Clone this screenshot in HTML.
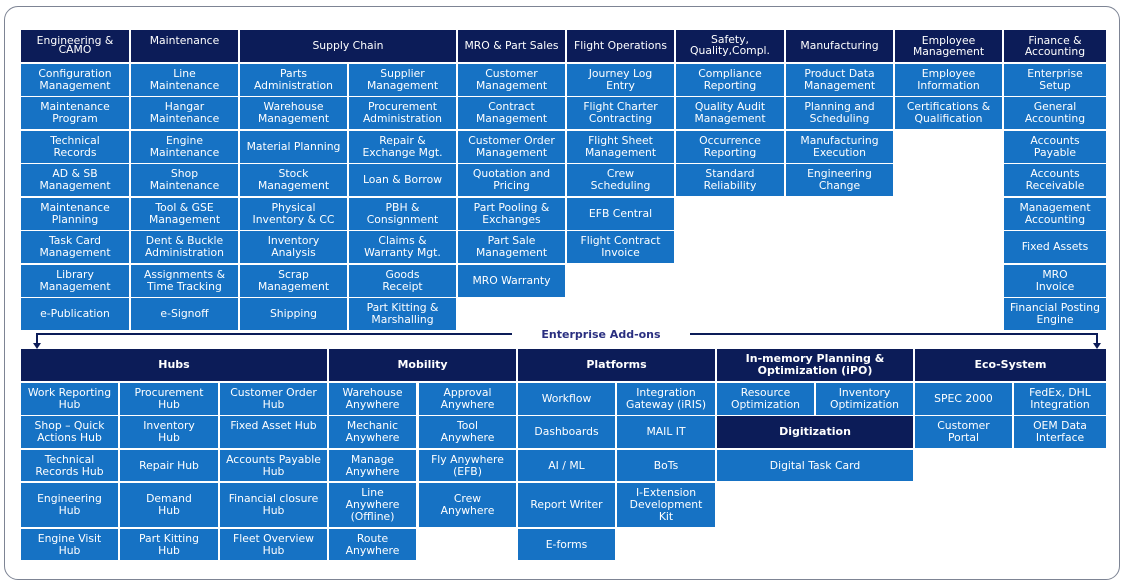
<!DOCTYPE html>
<html><head><meta charset="utf-8"><style>
body{margin:0;width:1126px;height:584px;background:#fff;overflow:hidden;position:relative;font-family:"DejaVu Sans","Liberation Sans",sans-serif}
.f{position:absolute;left:4px;top:6px;width:1116px;height:574px;border:1.5px solid #7d8494;border-radius:14px;box-sizing:border-box}
.c,.h{position:absolute;display:flex;align-items:center;justify-content:center;text-align:center;color:#fff;font-size:10.8px;line-height:12px;box-sizing:border-box;padding:0 2px}
.c{background:#1672c4}
.h{background:#0c1c58}
.t{align-items:flex-start;padding-top:6px;line-height:9px}
.b{font-weight:bold;font-size:11px}
.ln{position:absolute;background:#0c1c58}
</style></head><body>
<div class="f"></div>
<!-- top headers -->
<div class="h t" style="left:21px;top:30px;width:108px;height:32px">Engineering &amp;<br>CAMO</div>
<div class="h t" style="left:131px;top:30px;width:107px;height:32px;padding-top:6px">Maintenance</div>
<div class="h" style="left:240px;top:30px;width:216px;height:32px">Supply Chain</div>
<div class="h" style="left:458px;top:30px;width:107px;height:32px">MRO &amp; Part Sales</div>
<div class="h" style="left:567px;top:30px;width:107px;height:32px">Flight Operations</div>
<div class="h t" style="left:676px;top:30px;width:108px;height:32px;line-height:11px;padding-top:4px">Safety,<br>Quality,Compl.</div>
<div class="h" style="left:786px;top:30px;width:107px;height:32px">Manufacturing</div>
<div class="h t" style="left:895px;top:30px;width:107px;height:32px;line-height:11px;padding-top:5px">Employee<br>Management</div>
<div class="h t" style="left:1004px;top:30px;width:102px;height:32px;line-height:11px;padding-top:5px">Finance &amp;<br>Accounting</div>
<!-- col0 -->
<div class="c" style="left:21px;top:64px;width:108px;height:32px">Configuration<br>Management</div>
<div class="c" style="left:21px;top:97px;width:108px;height:32px">Maintenance<br>Program</div>
<div class="c" style="left:21px;top:131px;width:108px;height:32px">Technical<br>Records</div>
<div class="c" style="left:21px;top:164px;width:108px;height:32px">AD &amp; SB<br>Management</div>
<div class="c" style="left:21px;top:198px;width:108px;height:32px">Maintenance<br>Planning</div>
<div class="c" style="left:21px;top:231px;width:108px;height:32px">Task Card<br>Management</div>
<div class="c" style="left:21px;top:265px;width:108px;height:32px">Library<br>Management</div>
<div class="c" style="left:21px;top:298px;width:108px;height:32px">e-Publication</div>
<!-- col1 -->
<div class="c" style="left:131px;top:64px;width:107px;height:32px">Line<br>Maintenance</div>
<div class="c" style="left:131px;top:97px;width:107px;height:32px">Hangar<br>Maintenance</div>
<div class="c" style="left:131px;top:131px;width:107px;height:32px">Engine<br>Maintenance</div>
<div class="c" style="left:131px;top:164px;width:107px;height:32px">Shop<br>Maintenance</div>
<div class="c" style="left:131px;top:198px;width:107px;height:32px">Tool &amp; GSE<br>Management</div>
<div class="c" style="left:131px;top:231px;width:107px;height:32px">Dent &amp; Buckle<br>Administration</div>
<div class="c" style="left:131px;top:265px;width:107px;height:32px">Assignments &amp;<br>Time Tracking</div>
<div class="c" style="left:131px;top:298px;width:107px;height:32px">e-Signoff</div>
<!-- col2 -->
<div class="c" style="left:240px;top:64px;width:107px;height:32px">Parts<br>Administration</div>
<div class="c" style="left:240px;top:97px;width:107px;height:32px">Warehouse<br>Management</div>
<div class="c" style="left:240px;top:131px;width:107px;height:32px">Material Planning</div>
<div class="c" style="left:240px;top:164px;width:107px;height:32px">Stock<br>Management</div>
<div class="c" style="left:240px;top:198px;width:107px;height:32px">Physical<br>Inventory &amp; CC</div>
<div class="c" style="left:240px;top:231px;width:107px;height:32px">Inventory<br>Analysis</div>
<div class="c" style="left:240px;top:265px;width:107px;height:32px">Scrap<br>Management</div>
<div class="c" style="left:240px;top:298px;width:107px;height:32px">Shipping</div>
<!-- col3 -->
<div class="c" style="left:349px;top:64px;width:107px;height:32px">Supplier<br>Management</div>
<div class="c" style="left:349px;top:97px;width:107px;height:32px">Procurement<br>Administration</div>
<div class="c" style="left:349px;top:131px;width:107px;height:32px">Repair &amp;<br>Exchange Mgt.</div>
<div class="c" style="left:349px;top:164px;width:107px;height:32px">Loan &amp; Borrow</div>
<div class="c" style="left:349px;top:198px;width:107px;height:32px">PBH &amp;<br>Consignment</div>
<div class="c" style="left:349px;top:231px;width:107px;height:32px">Claims &amp;<br>Warranty Mgt.</div>
<div class="c" style="left:349px;top:265px;width:107px;height:32px">Goods<br>Receipt</div>
<div class="c" style="left:349px;top:298px;width:107px;height:32px">Part Kitting &amp;<br>Marshalling</div>
<!-- col4 -->
<div class="c" style="left:458px;top:64px;width:107px;height:32px">Customer<br>Management</div>
<div class="c" style="left:458px;top:97px;width:107px;height:32px">Contract<br>Management</div>
<div class="c" style="left:458px;top:131px;width:107px;height:32px">Customer Order<br>Management</div>
<div class="c" style="left:458px;top:164px;width:107px;height:32px">Quotation and<br>Pricing</div>
<div class="c" style="left:458px;top:198px;width:107px;height:32px">Part Pooling &amp;<br>Exchanges</div>
<div class="c" style="left:458px;top:231px;width:107px;height:32px">Part Sale<br>Management</div>
<div class="c" style="left:458px;top:265px;width:107px;height:32px">MRO Warranty</div>
<!-- col5 -->
<div class="c" style="left:567px;top:64px;width:107px;height:32px">Journey Log<br>Entry</div>
<div class="c" style="left:567px;top:97px;width:107px;height:32px">Flight Charter<br>Contracting</div>
<div class="c" style="left:567px;top:131px;width:107px;height:32px">Flight Sheet<br>Management</div>
<div class="c" style="left:567px;top:164px;width:107px;height:32px">Crew<br>Scheduling</div>
<div class="c" style="left:567px;top:198px;width:107px;height:32px">EFB Central</div>
<div class="c" style="left:567px;top:231px;width:107px;height:32px">Flight Contract<br>Invoice</div>
<!-- col6 -->
<div class="c" style="left:676px;top:64px;width:108px;height:32px">Compliance<br>Reporting</div>
<div class="c" style="left:676px;top:97px;width:108px;height:32px">Quality Audit<br>Management</div>
<div class="c" style="left:676px;top:131px;width:108px;height:32px">Occurrence<br>Reporting</div>
<div class="c" style="left:676px;top:164px;width:108px;height:32px">Standard<br>Reliability</div>
<!-- col7 -->
<div class="c" style="left:786px;top:64px;width:107px;height:32px">Product Data<br>Management</div>
<div class="c" style="left:786px;top:97px;width:107px;height:32px">Planning and<br>Scheduling</div>
<div class="c" style="left:786px;top:131px;width:107px;height:32px">Manufacturing<br>Execution</div>
<div class="c" style="left:786px;top:164px;width:107px;height:32px">Engineering<br>Change</div>
<!-- col8 -->
<div class="c" style="left:895px;top:64px;width:107px;height:32px">Employee<br>Information</div>
<div class="c" style="left:895px;top:97px;width:107px;height:32px">Certifications &amp;<br>Qualification</div>
<!-- col9 -->
<div class="c" style="left:1004px;top:64px;width:102px;height:32px">Enterprise<br>Setup</div>
<div class="c" style="left:1004px;top:97px;width:102px;height:32px">General<br>Accounting</div>
<div class="c" style="left:1004px;top:131px;width:102px;height:32px">Accounts<br>Payable</div>
<div class="c" style="left:1004px;top:164px;width:102px;height:32px">Accounts<br>Receivable</div>
<div class="c" style="left:1004px;top:198px;width:102px;height:32px">Management<br>Accounting</div>
<div class="c" style="left:1004px;top:231px;width:102px;height:32px">Fixed Assets</div>
<div class="c" style="left:1004px;top:265px;width:102px;height:32px">MRO<br>Invoice</div>
<div class="c" style="left:1004px;top:298px;width:102px;height:32px">Financial Posting<br>Engine</div>

<!-- connector -->
<div class="ln" style="left:36px;top:333px;width:476px;height:2px"></div>
<div class="ln" style="left:690px;top:333px;width:408px;height:2px"></div>
<div class="ln" style="left:36px;top:333px;width:2px;height:12px"></div>
<div class="ln" style="left:1096px;top:333px;width:2px;height:12px"></div>
<div style="position:absolute;left:33px;top:343px;width:0;height:0;border-left:4px solid transparent;border-right:4px solid transparent;border-top:6px solid #0c1c58"></div>
<div style="position:absolute;left:1093px;top:343px;width:0;height:0;border-left:4px solid transparent;border-right:4px solid transparent;border-top:6px solid #0c1c58"></div>
<div style="position:absolute;left:512px;top:328px;width:178px;text-align:center;font-size:11px;font-weight:bold;color:#2a2f80">Enterprise Add-ons</div>

<!-- lower headers -->
<div class="h b" style="left:21px;top:349px;width:306px;height:32px">Hubs</div>
<div class="h b" style="left:329px;top:349px;width:187px;height:32px">Mobility</div>
<div class="h b" style="left:518px;top:349px;width:197px;height:32px">Platforms</div>
<div class="h b" style="left:717px;top:349px;width:196px;height:32px;line-height:12px">In-memory Planning &amp;<br>Optimization (iPO)</div>
<div class="h b" style="left:915px;top:349px;width:191px;height:32px">Eco-System</div>
<!-- hubs -->
<div class="c" style="left:21px;top:383px;width:97px;height:32px">Work Reporting<br>Hub</div>
<div class="c" style="left:21px;top:416px;width:97px;height:32px">Shop – Quick<br>Actions Hub</div>
<div class="c" style="left:21px;top:450px;width:97px;height:31px">Technical<br>Records Hub</div>
<div class="c" style="left:21px;top:483px;width:97px;height:44px">Engineering<br>Hub</div>
<div class="c" style="left:21px;top:529px;width:97px;height:31px">Engine Visit<br>Hub</div>
<div class="c" style="left:120px;top:383px;width:98px;height:32px">Procurement<br>Hub</div>
<div class="c" style="left:120px;top:416px;width:98px;height:32px">Inventory<br>Hub</div>
<div class="c" style="left:120px;top:450px;width:98px;height:31px">Repair Hub</div>
<div class="c" style="left:120px;top:483px;width:98px;height:44px">Demand<br>Hub</div>
<div class="c" style="left:120px;top:529px;width:98px;height:31px">Part Kitting<br>Hub</div>
<div class="c" style="left:220px;top:383px;width:107px;height:32px">Customer Order<br>Hub</div>
<div class="c" style="left:220px;top:416px;width:107px;height:32px;align-items:flex-start;padding-top:4px">Fixed Asset Hub</div>
<div class="c" style="left:220px;top:450px;width:107px;height:31px">Accounts Payable<br>Hub</div>
<div class="c" style="left:220px;top:483px;width:107px;height:44px">Financial closure<br>Hub</div>
<div class="c" style="left:220px;top:529px;width:107px;height:31px">Fleet Overview<br>Hub</div>
<!-- mobility -->
<div class="c" style="left:329px;top:383px;width:87px;height:32px">Warehouse<br>Anywhere</div>
<div class="c" style="left:329px;top:416px;width:87px;height:32px">Mechanic<br>Anywhere</div>
<div class="c" style="left:329px;top:450px;width:87px;height:31px">Manage<br>Anywhere</div>
<div class="c" style="left:329px;top:483px;width:87px;height:44px">Line<br>Anywhere<br>(Offline)</div>
<div class="c" style="left:329px;top:529px;width:87px;height:31px">Route<br>Anywhere</div>
<div class="c" style="left:419px;top:383px;width:97px;height:32px">Approval<br>Anywhere</div>
<div class="c" style="left:419px;top:416px;width:97px;height:32px">Tool<br>Anywhere</div>
<div class="c" style="left:419px;top:450px;width:97px;height:31px">Fly Anywhere<br>(EFB)</div>
<div class="c" style="left:419px;top:483px;width:97px;height:44px">Crew<br>Anywhere</div>
<!-- platforms -->
<div class="c" style="left:518px;top:383px;width:97px;height:32px">Workflow</div>
<div class="c" style="left:518px;top:416px;width:97px;height:32px">Dashboards</div>
<div class="c" style="left:518px;top:450px;width:97px;height:31px">AI / ML</div>
<div class="c" style="left:518px;top:483px;width:97px;height:44px">Report Writer</div>
<div class="c" style="left:518px;top:529px;width:97px;height:31px">E-forms</div>
<div class="c" style="left:617px;top:383px;width:98px;height:32px">Integration<br>Gateway (iRIS)</div>
<div class="c" style="left:617px;top:416px;width:98px;height:32px">MAIL IT</div>
<div class="c" style="left:617px;top:450px;width:98px;height:31px">BoTs</div>
<div class="c" style="left:617px;top:483px;width:98px;height:44px">I-Extension<br>Development<br>Kit</div>
<!-- iPO -->
<div class="c" style="left:717px;top:383px;width:97px;height:32px">Resource<br>Optimization</div>
<div class="c" style="left:816px;top:383px;width:97px;height:32px">Inventory<br>Optimization</div>
<div class="h b" style="left:717px;top:416px;width:196px;height:32px">Digitization</div>
<div class="c" style="left:717px;top:450px;width:196px;height:31px">Digital Task Card</div>
<!-- eco -->
<div class="c" style="left:915px;top:383px;width:97px;height:32px">SPEC 2000</div>
<div class="c" style="left:1014px;top:383px;width:92px;height:32px">FedEx, DHL<br>Integration</div>
<div class="c" style="left:915px;top:416px;width:97px;height:32px">Customer<br>Portal</div>
<div class="c" style="left:1014px;top:416px;width:92px;height:32px">OEM Data<br>Interface</div>
</body></html>
